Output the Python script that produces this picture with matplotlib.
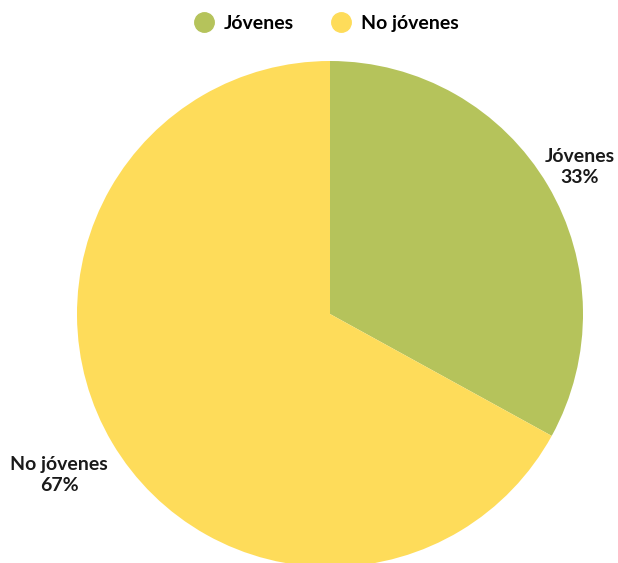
import matplotlib
matplotlib.use("Agg")
from matplotlib import pyplot as plt
from matplotlib.lines import Line2D

plt.rcParams['font.family'] = ['Lato', 'DejaVu Sans']

# Datos
categorias = ["Jóvenes", "No jóvenes"]
valores = [33, 67]
colores = ["#B5C35B", "#FEDC5A"]

fig = plt.figure(figsize=(6.18, 5.63), dpi=100)
ax = fig.add_axes([0, 0, 1, 1])

r_px = 253.0
cx, cy = 330.0, 563 - 314.0

wedges, _ = ax.pie(valores, colors=colores, startangle=90, counterclock=False,
                   radius=1, center=(0, 0), frame=True)
ax.set_xlim(-cx / r_px, (618 - cx) / r_px)
ax.set_ylim(-cy / r_px, (563 - cy) / r_px)
ax.set_aspect('auto')
ax.axis('off')

# Etiquetas de los sectores
def px(x, y):
    return ((x - cx) / r_px, ((563 - y) - cy) / r_px)

posiciones = [px(580, 167), px(59, 475)]
for cat, val, pos in zip(categorias, valores, posiciones):
    ax.text(pos[0], pos[1], f"{cat}\n{val}%", ha='center', va='center',
            fontsize=14, fontweight='bold', color='#1a1a1a', linespacing=1.3)

# Leyenda
handles = [Line2D([0], [0], marker='o', linestyle='', markersize=14,
                  markerfacecolor=c, markeredgecolor=c) for c in colores]
fig.legend(handles, categorias, loc='upper center', bbox_to_anchor=(0.525, 1.004),
           ncol=2, frameon=False, handletextpad=0.3, columnspacing=1.75,
           handlelength=1.4, prop={'weight': 'bold', 'size': 14})

fig.savefig("out.png", dpi=100)
